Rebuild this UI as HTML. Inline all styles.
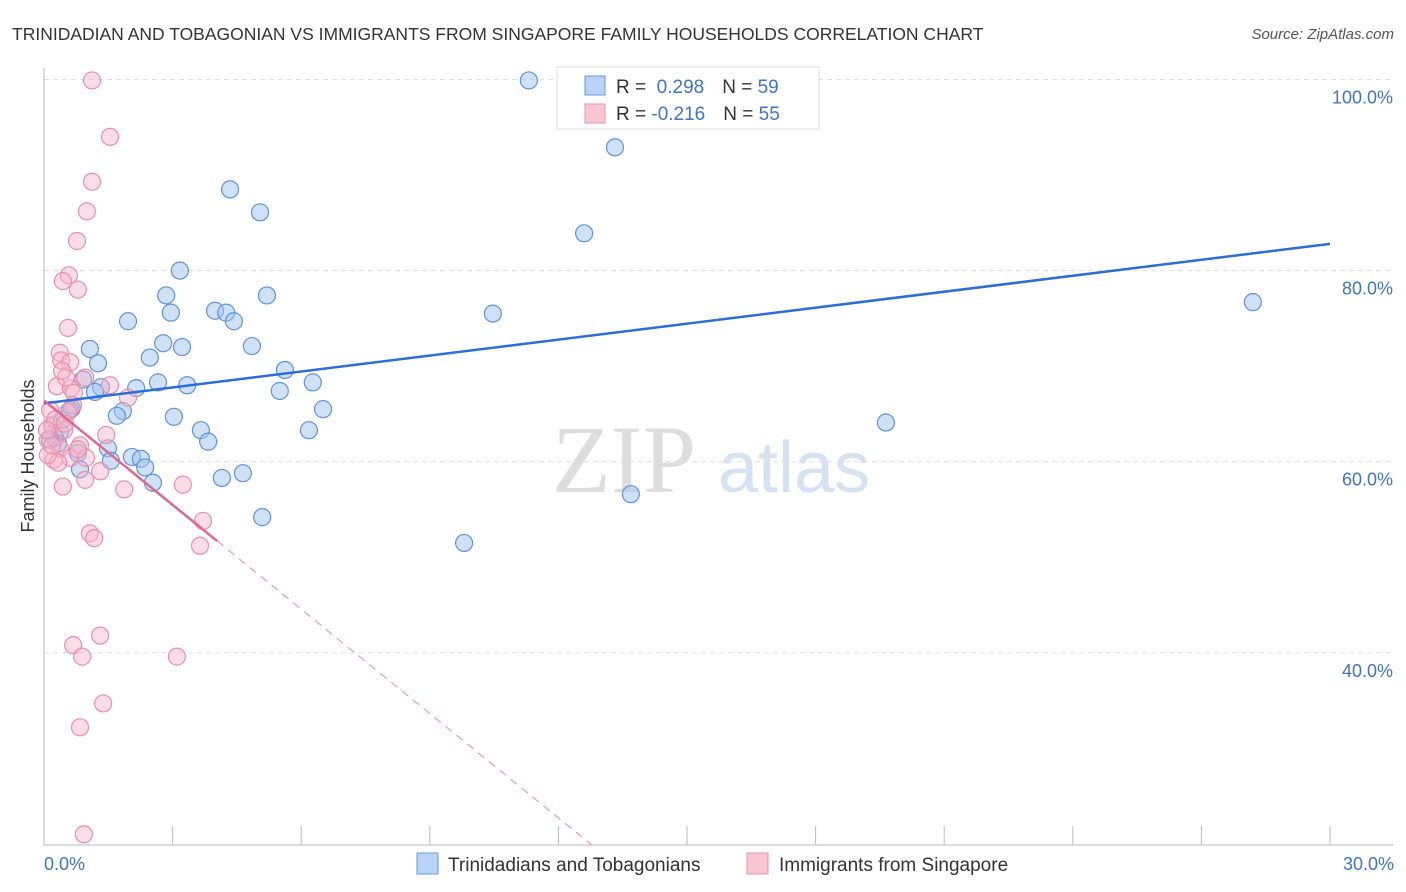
<!DOCTYPE html>
<html><head><meta charset="utf-8"><style>
body{margin:0;background:#fff;font-family:"Liberation Sans",sans-serif;}
svg{display:block}
</style></head><body>
<svg id="chart" width="1406" height="892" viewBox="0 0 1406 892" xmlns="http://www.w3.org/2000/svg">
<text x="12" y="40" font-size="17.5" fill="#333">TRINIDADIAN AND TOBAGONIAN VS IMMIGRANTS FROM SINGAPORE FAMILY HOUSEHOLDS CORRELATION CHART</text>
<text x="1394" y="39" font-size="15" fill="#555" font-style="italic" text-anchor="end">Source: ZipAtlas.com</text>
<g>
<text x="552" y="492" font-size="96" fill="#ddd" font-family="Liberation Serif,serif">ZIP</text>
<text x="718" y="492" font-size="72" fill="#d5e2f3">atlas</text>
</g>
<g id="grid"></g>
<g id="axes"></g>
<g id="pts"></g>
<g id="lines"></g>
<text transform="translate(34,456) rotate(-90)" font-size="18" fill="#333" text-anchor="middle">Family Households</text>
<text x="44" y="870" font-size="18" fill="#3f73d0">0.0%</text>
<text x="1394" y="870" font-size="18" fill="#3f73d0" text-anchor="end">30.0%</text>
<g>
<rect x="557" y="67" width="262" height="62" fill="#fff" stroke="#ddd"/>
<rect x="585" y="76" width="20" height="19" fill="#b8d3f5" stroke="#6a9ae0"/>
<rect x="585" y="104" width="20" height="19" fill="#f9c6d6" stroke="#e991ab"/>
<text x="616" y="93" font-size="19" fill="#333">R = <tspan fill="#3f73d0">&#160;0.298</tspan><tspan dx="18">N = </tspan><tspan fill="#3f73d0">59</tspan></text>
<text x="616" y="120" font-size="19" fill="#333">R = <tspan fill="#3f73d0">-0.216</tspan><tspan dx="18">N = </tspan><tspan fill="#3f73d0">55</tspan></text>
</g>
<g>
<rect x="417" y="853" width="21" height="21" fill="#b8d3f5" stroke="#6a9ae0"/>
<text x="448" y="871" font-size="19" fill="#333">Trinidadians and Tobagonians</text>
<rect x="747" y="853" width="21" height="21" fill="#f9c6d6" stroke="#e991ab"/>
<text x="779" y="871" font-size="19" fill="#333">Immigrants from Singapore</text>
</g>
</svg>
<script>
const yTicks=[100,80,60,40];
const yTickLabels=["100.0%","80.0%","60.0%","40.0%"];
const xTicks=[0,3,6,9,12,15,18,21,24,27,30];
const blueX=[11.31,13.32,4.34,5.04,12.60,3.17,2.85,5.20,28.2,1.96,2.96,3.99,4.25,4.43,10.47,2.78,3.22,4.85,1.07,2.47,1.26,5.62,2.66,6.27,3.34,1.33,1.19,2.15,5.50,0.91,0.65,1.84,1.70,3.03,6.51,19.64,6.18,3.66,0.37,3.83,0.26,0.33,1.49,0.79,2.05,2.26,1.56,2.36,0.84,4.64,4.15,2.54,13.69,5.09,9.80,0.19,0.14,0.42,0.61];
const blueY=[99.9,92.9,88.5,86.1,83.9,80.0,77.4,77.4,76.7,74.7,75.6,75.8,75.6,74.7,75.5,72.4,72.0,72.1,71.8,70.9,70.3,69.6,68.3,68.3,68.0,67.8,67.3,67.7,67.4,68.6,65.6,65.3,64.8,64.7,65.5,64.1,63.3,63.3,63.1,62.1,62.5,61.9,61.4,60.9,60.5,60.3,60.1,59.4,59.2,58.8,58.3,57.8,56.6,54.2,51.5,63.8,62.3,64.4,65.4];
const pinkX=[1.12,1.54,1.12,1.00,0.77,0.58,0.44,0.79,0.56,0.37,0.40,0.61,0.96,0.30,0.63,1.54,1.96,0.70,0.51,0.42,0.14,0.68,0.56,0.19,0.26,0.47,1.45,0.09,0.84,0.37,0.61,0.23,0.98,0.33,1.31,0.96,0.44,1.87,3.24,1.07,1.17,3.71,3.64,0.68,1.31,0.89,3.10,1.38,0.84,0.93,0.09,0.79,0.19,0.49,0.07];
const pinkY=[99.9,94.0,89.3,86.2,83.1,79.5,78.9,78.0,74.0,71.4,70.6,70.4,68.8,67.9,67.7,68.0,66.7,67.2,68.8,69.5,65.4,65.9,65.2,63.8,64.4,63.3,62.8,62.3,61.7,61.4,60.4,60.2,60.4,59.9,59.0,58.1,57.4,57.1,57.6,52.5,52.0,53.8,51.2,40.8,41.8,39.6,39.6,34.7,32.2,21.0,60.7,61.3,61.7,64.0,63.3];
const blueTrend=[66.1,82.8]; // value at x=0 and x=30
const pinkTrend=[66.4,-3.64]; // intercept, slope per %
const pinkSolidEnd=4.04;
const NS="http://www.w3.org/2000/svg";
const sx=v=>44+v/30*1286;
const sy=v=>1035-v*9.555;
const yMinVal=(1035-845)/9.555;
function mk(tag,attrs,parent){const e=document.createElementNS(NS,tag);for(const k in attrs)e.setAttribute(k,attrs[k]);parent.appendChild(e);return e;}
const grid=document.getElementById('grid'),axes=document.getElementById('axes'),pts=document.getElementById('pts'),lines=document.getElementById('lines');
yTicks.forEach((t,i)=>{
 const l=mk('line',{x1:44,x2:1394,y1:sy(t),y2:sy(t),stroke:'#ddd','stroke-dasharray':'5,4'},grid);
 
 
 const tx=mk('text',{x:1393,y:sy(t)+24,'font-size':18,fill:'#3f73d0','text-anchor':'end'},grid);
 tx.textContent=yTickLabels[i];
 
 
});
const ax=mk('line',{x1:44,x2:44,y1:68,y2:845,stroke:'#bbb'},axes);


const bx=mk('line',{x1:44,x2:1394,y1:845,y2:845,stroke:'#bbb'},axes);


xTicks.forEach(t=>{
 const l=mk('line',{x1:sx(t),x2:sx(t),y1:826,y2:845,stroke:'#bbb'},axes);
 
 
});
blueX.forEach((x,i)=>{
 const c=mk('circle',{cx:sx(x),cy:sy(blueY[i]),r:8.5,fill:'rgba(160,196,240,0.5)',stroke:'#5f93db','stroke-width':1.2},pts);
 
 
});
pinkX.forEach((x,i)=>{
 const c=mk('circle',{cx:sx(x),cy:sy(pinkY[i]),r:8.5,fill:'rgba(246,180,202,0.45)',stroke:'#eb8fab','stroke-width':1.2},pts);
 
 
});
const bl=mk('line',{x1:sx(0),y1:sy(blueTrend[0]),x2:sx(30),y2:sy(blueTrend[1]),stroke:'#2b6fd6','stroke-width':2.5},lines);


const pf=x=>pinkTrend[0]+pinkTrend[1]*x;
const pl=mk('line',{x1:sx(0),y1:sy(pf(0)),x2:sx(pinkSolidEnd),y2:sy(pf(pinkSolidEnd)),stroke:'#e2668f','stroke-width':2.5},lines);


const xEnd=(yMinVal-pinkTrend[0])/pinkTrend[1];
const pd=mk('line',{x1:sx(pinkSolidEnd),y1:sy(pf(pinkSolidEnd)),x2:sx(xEnd),y2:sy(pf(xEnd)),stroke:'#eb9ab2','stroke-width':1.2,'stroke-dasharray':'8,6'},lines);


</script>
</body></html>
